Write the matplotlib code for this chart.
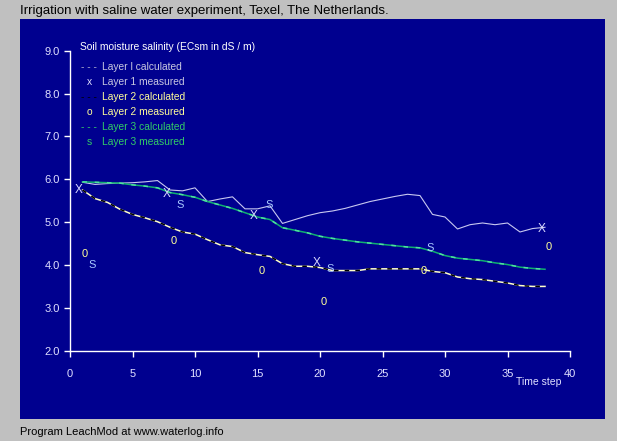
import matplotlib
matplotlib.use("Agg")
import matplotlib.pyplot as plt

plt.rcParams['font.family'] = ['Liberation Sans', 'DejaVu Sans']

# time steps of the calculated series
steps = list(range(1, 39))

layer1_calc = [5.93, 5.88, 5.90, 5.91, 5.92, 5.94, 5.97, 5.75, 5.73, 5.80,
               5.48, 5.54, 5.59, 5.31, 5.31, 5.38, 4.97, 5.06, 5.15, 5.22,
               5.26, 5.32, 5.40, 5.48, 5.54, 5.60, 5.65, 5.62, 5.18, 5.12,
               4.84, 4.94, 4.98, 4.94, 4.98, 4.77, 4.85, 4.88]
layer2_calc = [5.75, 5.55, 5.46, 5.30, 5.18, 5.10, 5.01, 4.88, 4.77, 4.72,
               4.59, 4.47, 4.43, 4.29, 4.24, 4.20, 4.03, 3.97, 3.97, 3.94,
               3.87, 3.87, 3.87, 3.91, 3.91, 3.91, 3.91, 3.91, 3.85, 3.82,
               3.72, 3.68, 3.66, 3.62, 3.58, 3.52, 3.50, 3.50]
layer3_calc = [5.94, 5.93, 5.92, 5.91, 5.87, 5.84, 5.80, 5.69, 5.64, 5.58,
               5.48, 5.40, 5.32, 5.22, 5.12, 5.06, 4.87, 4.81, 4.75, 4.67,
               4.62, 4.58, 4.54, 4.51, 4.48, 4.45, 4.42, 4.40, 4.32, 4.22,
               4.16, 4.13, 4.10, 4.05, 4.01, 3.95, 3.92, 3.90]

# measured values
l1_x = [0.7, 7.7, 14.7, 19.7, 37.7]
l1_y = [5.75, 5.66, 5.14, 4.04, 4.85]
l2_x = [1.2, 8.3, 15.3, 20.3, 28.3, 38.3]
l2_y = [4.26, 4.55, 3.85, 3.14, 3.85, 4.43]
l3_x = [1.8, 8.8, 15.9, 20.8, 28.8]
l3_y = [3.99, 5.40, 5.40, 3.90, 4.40]

xticks = [0, 5, 10, 15, 20, 25, 30, 35, 40]
yticks = [2.0, 3.0, 4.0, 5.0, 6.0, 7.0, 8.0, 9.0]

navy = '#00008f'
c1 = '#c8c8f0'
c2 = '#ffff99'
c3 = '#33cc66'

fig = plt.figure(figsize=(6.17, 4.41), dpi=100, facecolor='#c0c0c0')
# blue panel
fig.patches.append(plt.Rectangle((20 / 617, 1 - 419 / 441), 585 / 617, 400 / 441,
                                 transform=fig.transFigure, facecolor=navy,
                                 edgecolor='none', zorder=-1))

ax = fig.add_axes([70 / 617, 1 - 350.7 / 441, 500 / 617, 300 / 441])
ax.set_facecolor(navy)
ax.patch.set_alpha(0)
ax.set_xlim(0, 40)
ax.set_ylim(2, 9)
ax.set_xticks(xticks)
ax.set_yticks(yticks)
ax.set_yticklabels(['%.1f' % v for v in yticks])
for s in ['top', 'right']:
    ax.spines[s].set_visible(False)
for s in ['left', 'bottom']:
    ax.spines[s].set_color('white')
    ax.spines[s].set_linewidth(1)
ax.tick_params(colors='white', labelcolor='#e0e0ff', labelsize=8, length=4, width=1)
ax.tick_params(axis='x', pad=9)

ax.plot(steps, layer1_calc, color=c1, lw=0.8)
ax.plot(steps, layer2_calc, color='#ffffc8', lw=1.1)
ax.plot(steps, layer2_calc, color='black', lw=1.1, dashes=(3, 4))
ax.plot(steps, layer3_calc, color='#10b070', lw=1.1)
ax.plot(steps, layer3_calc, color='#50e0a0', lw=1.1, dashes=(3, 5))

for x, y in zip(l1_x, l1_y):
    ax.text(x, y, 'X', color='#d8d8ff', fontsize=8.5, ha='center', va='center')
for x, y in zip(l2_x, l2_y):
    ax.text(x, y, '0', color=c2, fontsize=8, ha='center', va='center')
for x, y in zip(l3_x, l3_y):
    ax.text(x, y, 'S', color='#a8c8ff', fontsize=8, ha='center', va='center')

# legend block
fig.text(80 / 617, 1 - 46.7 / 441, 'Soil moisture salinity (ECsm in dS / m)',
         color='white', fontsize=7.4, va='center')
legend_rows = [
    ('- - -', 'Layer l calculated', '#b0b0d0', '#c8c8e0'),
    ('x', 'Layer 1 measured', '#e0e0ff', '#c8c8e0'),
    ('- - -', 'Layer 2 calculated', 'black', c2),
    ('o', 'Layer 2 measured', c2, c2),
    ('- - -', 'Layer 3 calculated', c3, c3),
    ('s', 'Layer 3 measured', c3, c3),
]
for i, (sym, lab, sc, tc) in enumerate(legend_rows):
    yy = 1 - (67.3 + 15 * i) / 441
    fig.text(89 / 617, yy, sym, color=sc, fontsize=7.4, va='center', ha='center')
    fig.text(101.5 / 617, yy, lab, color=tc, fontsize=7.4, va='center')

fig.text(539 / 617, 1 - 382 / 441, 'Time step', color='#e0e0ff', fontsize=7.5,
         ha='center', va='center')
fig.text(20 / 617, 1 - 11 / 441, 'Irrigation with saline water experiment, Texel, The Netherlands.',
         color='black', fontsize=9.5, va='center')
fig.text(20 / 617, 1 - 432 / 441, 'Program LeachMod at www.waterlog.info',
         color='black', fontsize=8, va='center')

fig.savefig('out.png', dpi=100, facecolor=fig.get_facecolor())
